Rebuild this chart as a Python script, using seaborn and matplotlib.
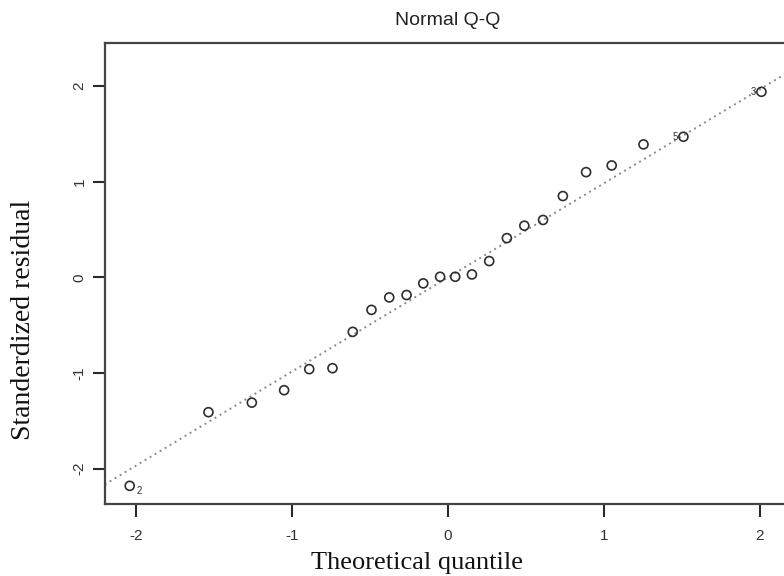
import numpy as np
import pandas as pd
import matplotlib
matplotlib.use("Agg")
import matplotlib.pyplot as plt
import seaborn as sns

# theoretical quantiles and standardized residuals
theo_q = [-2.04, -1.535, -1.257, -1.05, -0.889, -0.74, -0.61, -0.49, -0.376, -0.265,
          -0.158, -0.05, 0.047, 0.154, 0.265, 0.378, 0.49, 0.61, 0.737, 0.886,
          1.05, 1.254, 1.51, 2.01]
std_resid = [-2.18, -1.41, -1.31, -1.18, -0.96, -0.95, -0.57, -0.34, -0.21, -0.185,
             -0.063, 0.006, 0.006, 0.03, 0.17, 0.41, 0.54, 0.60, 0.85, 1.10,
             1.17, 1.39, 1.47, 1.94]
point_ids = {0: "2", 22: "5", 23: "3"}
x_ticks = [-2, -1, 0, 1, 2]
y_ticks = [-2, -1, 0, 1, 2]

df = pd.DataFrame({"theo": theo_q, "resid": std_resid})

sns.set_style("ticks")
tick_font = ["Liberation Sans Narrow", "Liberation Sans", "DejaVu Sans"]
serif_font = ["Liberation Serif", "DejaVu Serif"]

fig = plt.figure(figsize=(7.84, 5.76), dpi=100)
ax = fig.add_axes([0.1336, 0.125, 0.8754, 0.8003])

sns.scatterplot(data=df, x="theo", y="resid", ax=ax, marker="o", s=42,
                facecolor="none", edgecolor="#2e2e2e", linewidth=1.2, zorder=3)

# R-style qqline through the quartiles
q_y = np.quantile(df["resid"], [0.25, 0.75])
q_x = np.array([-0.6745, 0.6745])
slope = (q_y[1] - q_y[0]) / (q_x[1] - q_x[0])
icpt = q_y[0] - slope * q_x[0]
ax.axline((0, icpt), slope=slope, color="#8a8a8a", linestyle=(0, (1, 2)), linewidth=1.4, zorder=2)

for i, lab in point_ids.items():
    if theo_q[i] < 0:
        ax.annotate(lab, (theo_q[i], std_resid[i]), xytext=(5, -4), textcoords="offset points",
                    fontsize=7, ha="left", va="center", color="#333333", family=tick_font)
    else:
        ax.annotate(lab, (theo_q[i], std_resid[i]), xytext=(-4, 0), textcoords="offset points",
                    fontsize=7, ha="right", va="center", color="#333333", family=tick_font)

ax.set_xlim(-2.2, 2.2)
ax.set_ylim(-2.37, 2.45)
ax.set_xticks(x_ticks)
ax.set_yticks(y_ticks)
ax.set_xticklabels([str(t) for t in x_ticks], family=tick_font, fontsize=11)
ax.set_yticklabels([str(t) for t in y_ticks], family=tick_font, fontsize=11,
                   rotation=90, va="center")
ax.tick_params(axis="x", bottom=True, length=9, width=1.5, pad=9,
               color="#2a2a2a", labelcolor="#333333")
ax.tick_params(axis="y", left=True, length=9, width=1.5, pad=4,
               color="#2a2a2a", labelcolor="#333333")
for t in ax.xaxis.get_major_ticks() + ax.yaxis.get_major_ticks():
    t.tick1line.set_visible(True)
    t.tick1line.set_markeredgecolor("#2a2a2a")
    t.tick1line.set_zorder(5)

for side in ["left", "bottom", "top", "right"]:
    ax.spines[side].set_visible(True)
    ax.spines[side].set_color("#444444")
    ax.spines[side].set_linewidth(1.6)

ax.set_title("Normal Q-Q", family=tick_font, fontsize=14, color="#222222", pad=13)

ax.set_xlabel("Theoretical quantile", family=serif_font, fontsize=19, color="#111111")
ax.xaxis.label.set_va("baseline")
ax.xaxis.set_label_coords(0.455, -0.14)

ax.set_ylabel("Standerdized residual", family=serif_font, fontsize=20, color="#111111")
ax.yaxis.label.set_va("center")
ax.yaxis.set_label_coords(-0.118, 0.40)

fig.savefig("out.png", dpi=100)
